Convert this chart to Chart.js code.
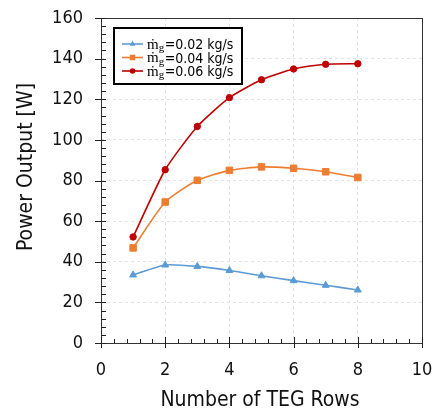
<!DOCTYPE html>
<html>
<head>
<meta charset="utf-8">
<script src="https://cdn.jsdelivr.net/npm/chart.js@4.4.1/dist/chart.umd.min.js"></script>
<style>
  html,body{margin:0;padding:0;background:#fff}
  canvas{display:block}
</style>
</head>
<body>
<canvas id="chart" width="438" height="416"></canvas>
<script>
// data
const rows = [1, 2, 3, 4, 5, 6, 7, 8];
const flowRates = ['0.02', '0.04', '0.06'];
const power002 = [33.5, 38.4, 37.7, 35.7, 33.1, 30.7, 28.4, 26.1];
const power004 = [46.8, 69.4, 80.1, 85.0, 86.7, 86.0, 84.3, 81.5];
const power006 = [52.2, 85.3, 106.6, 120.8, 129.6, 134.9, 137.2, 137.5];
const xTicks = [0, 2, 4, 6, 8, 10];
const yTicks = [0, 20, 40, 60, 80, 100, 120, 140, 160];
const xTitle = 'Number of TEG Rows';
const yTitle = 'Power Output [W]';

const FONT = '"DejaVu Sans Condensed", "DejaVu Sans", sans-serif';
const SERIF = '"Liberation Serif", "DejaVu Serif", serif';
const colors = ['#5b9bd5', '#ed7d31', '#c00000'];
const markers = ['triangle', 'rect', 'circle'];
const radii = [4, 4.6, 3.2];

function pts(arr){ return rows.map((x, i) => ({x: x, y: arr[i]})); }

const datasets = [power002, power004, power006].map((arr, i) => ({
  label: flowRates[i],
  data: pts(arr),
  borderColor: colors[i],
  backgroundColor: colors[i],
  borderWidth: 1.6,
  pointStyle: markers[i],
  pointRadius: radii[i],
  pointBorderWidth: 1,
  tension: 0.2,
  fill: false
}));

// frame, minor/major ticks, axis titles, legend
const decor = {
  id: 'decor',
  afterDatasetsDraw(chart){
    const ctx = chart.ctx;
    const a = chart.chartArea;
    const xs = chart.scales.x, ys = chart.scales.y;
    ctx.save();
    ctx.strokeStyle = '#333';
    ctx.lineWidth = 1;
    ctx.strokeRect(Math.round(a.left) + 0.5, Math.round(a.top) + 0.5,
      Math.round(a.right - a.left), Math.round(a.bottom - a.top));

    ctx.strokeStyle = '#222';
    ctx.beginPath();
    // x ticks
    for (let i = 0; i < xTicks.length; i++) {
      const px = Math.round(xs.getPixelForValue(xTicks[i])) + 0.5;
      ctx.moveTo(px, a.bottom - 6); ctx.lineTo(px, a.bottom + 5);
      if (i < xTicks.length - 1) {
        const step = (xTicks[i + 1] - xTicks[i]) / 5;
        for (let k = 1; k < 5; k++) {
          const mx = Math.round(xs.getPixelForValue(xTicks[i] + k * step)) + 0.5;
          ctx.moveTo(mx, a.bottom - 4); ctx.lineTo(mx, a.bottom);
        }
      }
    }
    // y ticks
    for (let i = 0; i < yTicks.length; i++) {
      const py = Math.round(ys.getPixelForValue(yTicks[i])) + 0.5;
      ctx.moveTo(a.left - 6, py); ctx.lineTo(a.left + 5, py);
      if (i < yTicks.length - 1) {
        const step = (yTicks[i + 1] - yTicks[i]) / 5;
        for (let k = 1; k < 5; k++) {
          const my = Math.round(ys.getPixelForValue(yTicks[i] + k * step)) + 0.5;
          ctx.moveTo(a.left, my); ctx.lineTo(a.left + 5, my);
        }
      }
    }
    ctx.stroke();

    // axis titles
    ctx.fillStyle = '#111';
    ctx.font = '21px ' + FONT;
    ctx.textAlign = 'center';
    ctx.textBaseline = 'middle';
    ctx.fillText(xTitle, 260, 401);
    ctx.save();
    ctx.translate(27, 167);
    ctx.rotate(-Math.PI / 2);
    ctx.fillText(yTitle, 0, 0);
    ctx.restore();

    // legend box
    const bx = 114, by = 28, bw = 128, bh = 56;
    ctx.fillStyle = '#fff';
    ctx.fillRect(bx, by, bw, bh);
    ctx.lineWidth = 2;
    ctx.strokeStyle = '#000';
    ctx.strokeRect(bx, by, bw, bh);
    const rowY = [44, 57.5, 71];
    chart.data.datasets.forEach((ds, i) => {
      const y = rowY[i];
      ctx.strokeStyle = ds.borderColor;
      ctx.lineWidth = 1.6;
      ctx.beginPath();
      ctx.moveTo(122, y); ctx.lineTo(143, y);
      ctx.stroke();
      ctx.fillStyle = ds.backgroundColor;
      Chart.helpers.drawPoint(ctx, {pointStyle: ds.pointStyle, radius: ds.pointRadius * 0.85, borderWidth: 0}, 132.5, y);
      ctx.fillStyle = '#000';
      ctx.textAlign = 'left';
      ctx.textBaseline = 'alphabetic';
      ctx.font = '15px ' + SERIF;
      ctx.fillText('\u1e41', 147, y + 4.5);
      const mw = ctx.measureText('\u1e41').width;
      ctx.font = '11px ' + SERIF;
      ctx.fillText('g', 147 + mw, y + 7);
      const gw = ctx.measureText('g').width;
      ctx.font = '14px ' + FONT;
      ctx.fillText('=' + ds.label + ' kg/s', 147 + mw + gw + 0.5, y + 5);
    });
    ctx.restore();
  }
};

new Chart(document.getElementById('chart'), {
  type: 'line',
  data: { datasets: datasets },
  plugins: [decor],
  options: {
    responsive: false,
    animation: false,
    layout: { padding: { top: 18, right: 16, left: 0, bottom: 0 } },
    plugins: { legend: { display: false }, tooltip: { enabled: false } },
    scales: {
      x: {
        type: 'linear',
        min: 0, max: 10,
        afterBuildTicks: s => { s.ticks = xTicks.map(v => ({value: v})); },
        afterFit: s => { s.height = 73; s.paddingLeft = 0; s.paddingRight = 0; },
        grid: { color: '#e3e3e3', drawTicks: false },
        border: { display: false, dash: [3, 3] },
        ticks: { color: '#111', padding: 17, font: { family: FONT, size: 18 } }
      },
      y: {
        min: 0, max: 160,
        afterBuildTicks: s => { s.ticks = yTicks.map(v => ({value: v})); },
        afterFit: s => { s.width = 101; s.paddingTop = 0; s.paddingBottom = 0; },
        grid: { color: '#e3e3e3', drawTicks: false },
        border: { display: false, dash: [3, 3] },
        ticks: { color: '#111', padding: 18, font: { family: FONT, size: 18 } }
      }
    }
  }
});
</script>
</body>
</html>
